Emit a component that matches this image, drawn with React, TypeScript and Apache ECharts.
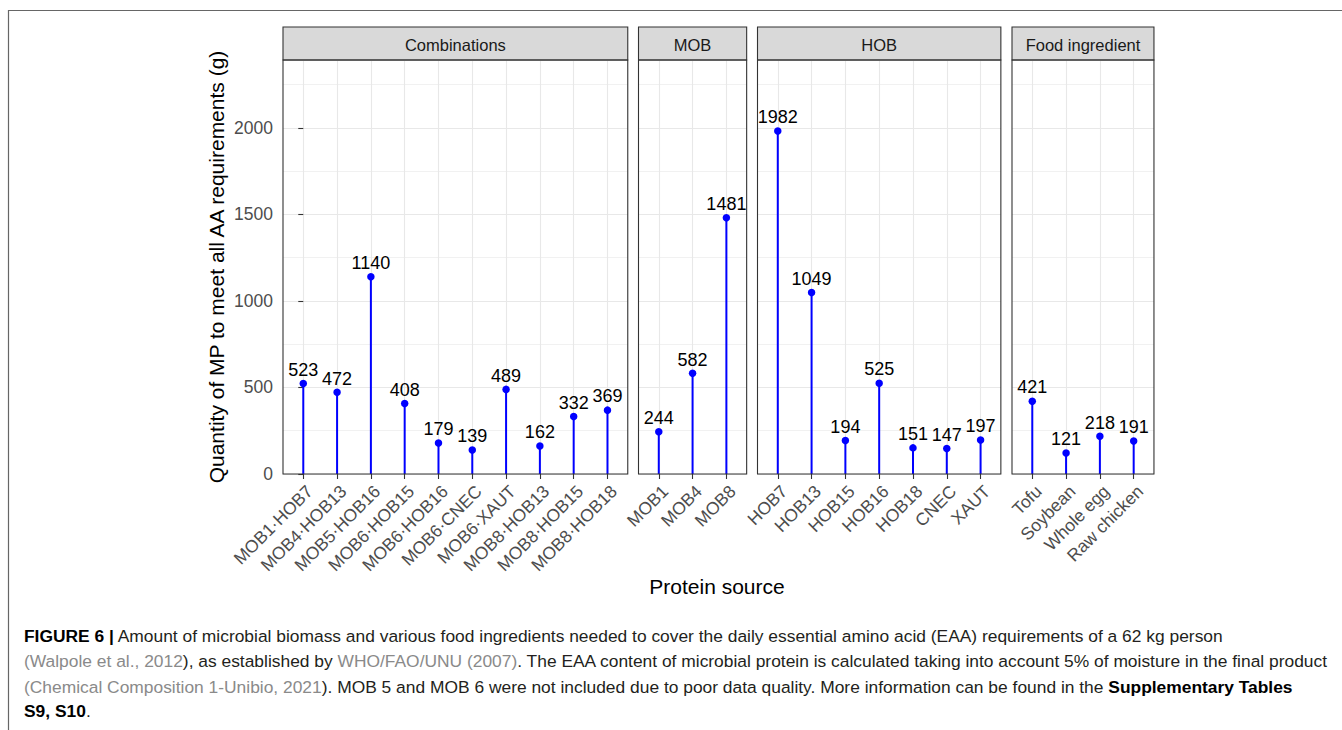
import React, { useEffect, useRef } from "react";
import * as echarts from "echarts";

// ---------- data ----------
const PANEL_NAMES = ["Combinations", "MOB", "HOB", "Food ingredient"];
const COMBO_CATS = [
  "MOB1·HOB7",
  "MOB4·HOB13",
  "MOB5·HOB16",
  "MOB6·HOB15",
  "MOB6·HOB16",
  "MOB6·CNEC",
  "MOB6·XAUT",
  "MOB8·HOB13",
  "MOB8·HOB15",
  "MOB8·HOB18",
];
const COMBO_VALUES = [523, 472, 1140, 408, 179, 139, 489, 162, 332, 369];
const MOB_CATS = ["MOB1", "MOB4", "MOB8"];
const MOB_VALUES = [244, 582, 1481];
const HOB_CATS = ["HOB7", "HOB13", "HOB15", "HOB16", "HOB18", "CNEC", "XAUT"];
const HOB_VALUES = [1982, 1049, 194, 525, 151, 147, 197];
const FOOD_CATS = ["Tofu", "Soybean", "Whole egg", "Raw chicken"];
const FOOD_VALUES = [421, 121, 218, 191];
const Y_MAJOR_STEP = 500;
const Y_MINOR_STEP = 250;
const Y_MIN = 0;
const Y_MAX = 2393;
const Y_TITLE = "Quantity of MP to meet all AA requirements (g)";
const X_TITLE = "Protein source";

// ---------- layout / style ----------
const FONT = "Liberation Sans, Arial, Helvetica, sans-serif";
const BLUE = "#0000ff";
const STEP = 33.8;
const PANEL_LEFTS = [283, 638.5, 757.5, 1012];
const PANEL_TOP = 60;
const PANEL_BOTTOM = 474;
const STRIP_TOP = 27;
const GRID_COLOR = "#e8e8e8";
const TICK_FONT = 17.5;
const VALUE_FONT = 18;

const PANELS = [
  { name: PANEL_NAMES[0], cats: COMBO_CATS, values: COMBO_VALUES },
  { name: PANEL_NAMES[1], cats: MOB_CATS, values: MOB_VALUES },
  { name: PANEL_NAMES[2], cats: HOB_CATS, values: HOB_VALUES },
  { name: PANEL_NAMES[3], cats: FOOD_CATS, values: FOOD_VALUES },
];

const CAPTION_LINES = [
  "{b|FIGURE 6 |} Amount of microbial biomass and various food ingredients needed to cover the daily essential amino acid (EAA) requirements of a 62 kg person",
  "{g|(Walpole et al., 2012}), as established by {g|WHO/FAO/UNU (2007)}. The EAA content of microbial protein is calculated taking into account 5% of moisture in the final product",
  "{g|(Chemical Composition 1-Unibio, 2021}). MOB 5 and MOB 6 were not included due to poor data quality. More information can be found in the {b|Supplementary Tables}",
  "{b|S9, S10}.",
];
const CAPTION_FONT = 17.4;

function buildOption() {
  const height = PANEL_BOTTOM - PANEL_TOP;
  const widths = PANELS.map((p) => (p.cats.length + 0.2) * STEP);

  const grid = PANELS.map((p, i) => ({
    left: PANEL_LEFTS[i],
    top: PANEL_TOP,
    width: widths[i],
    height,
    show: false,
    containLabel: false,
  }));

  const xAxis = PANELS.map((p, i) => {
    const idx = p.cats.map((_, j) => j);
    return {
      type: "value",
      gridIndex: i,
      min: -0.6,
      max: p.cats.length - 0.4,
      axisLine: { show: false },
      axisTick: {
        show: true,
        customValues: idx,
        length: 5,
        lineStyle: { color: "#333333", width: 1.1 },
      },
      axisLabel: {
        show: true,
        customValues: idx,
        formatter: (v: number) => p.cats[Math.round(v)] ?? "",
        rotate: 45,
        align: "right",
        verticalAlign: "top",
        margin: 8,
        color: "#4d4d4d",
        fontSize: TICK_FONT,
        fontFamily: FONT,
      },
      splitLine: { show: true, lineStyle: { color: GRID_COLOR, width: 1.1 } },
      minorSplitLine: { show: false },
    };
  });

  const majorY = PANELS.map((p, i) => ({
    type: "value",
    gridIndex: i,
    min: Y_MIN,
    max: Y_MAX,
    interval: Y_MAJOR_STEP,
    axisLine: { show: false },
    axisTick: {
      show: i === 0,
      length: 5,
      lineStyle: { color: "#333333", width: 1.1 },
    },
    axisLabel: {
      show: i === 0,
      showMaxLabel: false,
      margin: 10,
      color: "#4d4d4d",
      fontSize: TICK_FONT,
      fontFamily: FONT,
      formatter: (v: number) => (v % Y_MAJOR_STEP === 0 ? String(v) : ""),
    },
    splitLine: { show: true, lineStyle: { color: GRID_COLOR, width: 1.1 } },
    name: i === 0 ? Y_TITLE : "",
    nameLocation: "middle",
    nameGap: 56,
    nameRotate: 90,
    nameTextStyle: { color: "#000", fontSize: 21, fontFamily: FONT },
  }));

  const minorY = PANELS.map((p, i) => ({
    type: "value",
    gridIndex: i,
    min: Y_MIN,
    max: Y_MAX,
    interval: Y_MINOR_STEP,
    axisLine: { show: false },
    axisTick: { show: false },
    axisLabel: { show: false },
    splitLine: { show: true, lineStyle: { color: GRID_COLOR, width: 0.6 } },
  }));

  const series: any[] = [];
  PANELS.forEach((p, i) => {
    const data = p.values.map((v, j) => [j, v]);
    series.push({
      type: "custom",
      xAxisIndex: i,
      yAxisIndex: i,
      silent: true,
      z: 3,
      data,
      renderItem: (params: any, api: any) => {
        const x = api.value(0);
        const y = api.value(1);
        const p0 = api.coord([x, 0]);
        const p1 = api.coord([x, y]);
        return {
          type: "line",
          shape: { x1: p0[0], y1: p0[1], x2: p1[0], y2: p1[1] },
          style: { stroke: BLUE, lineWidth: 2 },
        };
      },
    });
    series.push({
      type: "scatter",
      xAxisIndex: i,
      yAxisIndex: i,
      z: 4,
      symbol: "circle",
      symbolSize: 7.5,
      itemStyle: { color: BLUE, opacity: 1 },
      data,
      label: {
        show: true,
        position: "top",
        distance: 1,
        color: "#000",
        fontSize: VALUE_FONT,
        fontFamily: FONT,
        formatter: (q: any) => String(q.value[1]),
      },
    });
  });

  const graphic: any[] = [];
  // frame of the figure box
  graphic.push({
    type: "line",
    z: 100,
    shape: { x1: 8, y1: 10.5, x2: 1342, y2: 10.5 },
    style: { stroke: "#666", lineWidth: 1.2 },
  });
  graphic.push({
    type: "line",
    z: 100,
    shape: { x1: 8.5, y1: 10, x2: 8.5, y2: 730 },
    style: { stroke: "#666", lineWidth: 1.2 },
  });
  PANELS.forEach((p, i) => {
    const left = PANEL_LEFTS[i];
    const w = widths[i];
    graphic.push({
      type: "rect",
      z: 100,
      shape: { x: left, y: STRIP_TOP, width: w, height: PANEL_TOP - STRIP_TOP },
      style: { fill: "#d9d9d9", stroke: "#333333", lineWidth: 1.1 },
    });
    graphic.push({
      type: "text",
      z: 101,
      x: left + w / 2,
      y: (STRIP_TOP + PANEL_TOP) / 2 + 1,
      style: {
        text: p.name,
        fill: "#1a1a1a",
        fontSize: 16.5,
        fontFamily: FONT,
        align: "center",
        verticalAlign: "middle",
      },
    });
    graphic.push({
      type: "rect",
      z: 100,
      silent: true,
      shape: { x: left, y: PANEL_TOP, width: w, height },
      style: { fill: "none", stroke: "#333333", lineWidth: 1.1 },
    });
  });
  graphic.push({
    type: "text",
    z: 100,
    x: 717,
    y: 586,
    style: {
      text: X_TITLE,
      fill: "#000",
      fontSize: 21,
      fontFamily: FONT,
      align: "center",
      verticalAlign: "middle",
    },
  });
  const captionBaselines = [644, 669, 695, 719];
  CAPTION_LINES.forEach((line, k) => {
    graphic.push({
      type: "text",
      z: 100,
      x: 24,
      y: captionBaselines[k],
      style: {
        text: line,
        fill: "#231f20",
        fontSize: CAPTION_FONT,
        fontFamily: FONT,
        align: "left",
        verticalAlign: "bottom",
        rich: {
          b: { fontWeight: "bold", fill: "#000", fontSize: CAPTION_FONT, fontFamily: FONT },
          g: { fill: "#8a8a8a", fontSize: CAPTION_FONT, fontFamily: FONT },
        },
      },
    });
  });

  return {
    animation: false,
    backgroundColor: "#ffffff",
    textStyle: { fontFamily: FONT },
    grid,
    xAxis,
    yAxis: [...majorY, ...minorY],
    series,
    graphic,
  };
}

export default function App() {
  const ref = useRef<HTMLDivElement>(null);
  useEffect(() => {
    if (!ref.current) return;
    const chart = echarts.init(ref.current, null, { renderer: "svg" });
    chart.setOption(buildOption() as any);
    return () => chart.dispose();
  }, []);
  return (
    <div
      ref={ref}
      style={{
        position: "fixed",
        left: 0,
        top: 0,
        width: 1342,
        height: 730,
        background: "#fff",
      }}
    />
  );
}
